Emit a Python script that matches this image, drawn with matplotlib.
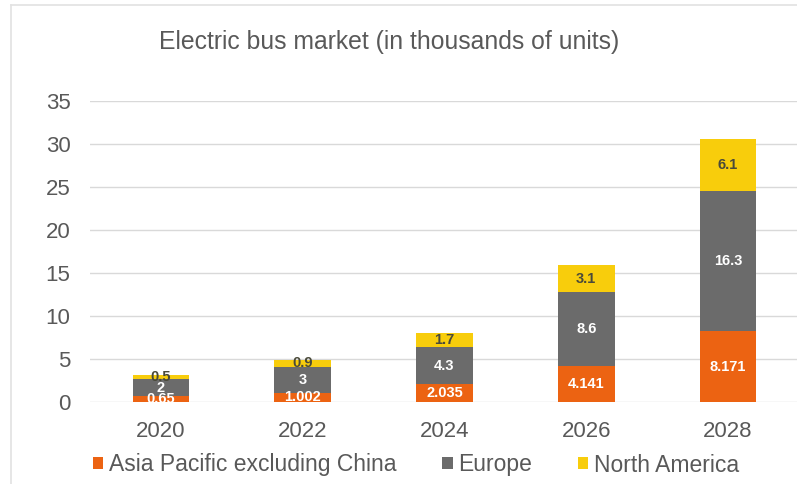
import numpy as np
import matplotlib.pyplot as plt
from matplotlib.lines import Line2D
from matplotlib.patches import Patch

plt.rcParams['font.family'] = ['Liberation Sans', 'DejaVu Sans']

years = ['2020', '2022', '2024', '2026', '2028']
asia_pacific = [0.65, 1.002, 2.035, 4.141, 8.171]
europe = [2, 3, 4.3, 8.6, 16.3]
north_america = [0.5, 0.9, 1.7, 3.1, 6.1]

series_names = ['Asia Pacific excluding China', 'Europe', 'North America']
colors = ['#EC6312', '#6B6B6B', '#F8CD0C']
label_colors = ['white', 'white', '#4A4A3A']

W, H = 797, 484
fig = plt.figure(figsize=(W / 100, H / 100), dpi=100)
ax = fig.add_axes([90 / W, 1 - 401.7 / H, 709 / W, 301 / H])

x = np.arange(len(years))
bottom = np.zeros(len(years))
for values, color, lab_color in zip([asia_pacific, europe, north_america], colors, label_colors):
    vals = np.array(values)
    ax.bar(x, vals, width=0.40, bottom=bottom, color=color, zorder=3)
    for xi, b, v in zip(x, bottom, vals):
        ax.text(xi, b + v / 2, f'{v:g}', ha='center', va='center',
                fontsize=10.5, fontweight='bold', color=lab_color, zorder=4)
    bottom += vals

ax.set_xlim(-0.5, 4.5)
ax.set_ylim(0, 35)
ax.set_yticks(np.arange(0, 36, 5))
ax.set_xticks(x)
ax.set_xticklabels(years)
ax.grid(axis='y', color='#D9D9D9', linewidth=1, zorder=0)
for s in ax.spines.values():
    s.set_visible(False)
ax.tick_params(length=0, labelsize=16, labelcolor='#595959')
ax.tick_params(axis='y', pad=14)
ax.tick_params(axis='x', pad=14)

fig.text(389 / W, 1 - 42 / H, 'Electric bus market (in thousands of units)',
         ha='center', va='center', fontsize=17.8, color='#595959')

handles = [Patch(facecolor=c) for c in colors]
fig.legend(handles, series_names, loc='center', bbox_to_anchor=(416 / W, 1 - 465 / H),
           ncol=3, frameon=False, fontsize=16.5, labelcolor='#595959',
           handlelength=0.45, handleheight=0.45, handletextpad=0.25, columnspacing=2.0)

# thin outer frame lines
fig.add_artist(Line2D([10.5 / W, 10.5 / W], [0, 1 - 5 / H], color='#E2E2E2', linewidth=1.2))
fig.add_artist(Line2D([10.5 / W, 1], [1 - 5 / H, 1 - 5 / H], color='#E2E2E2', linewidth=1.2))

fig.savefig('out.png', dpi=100)
